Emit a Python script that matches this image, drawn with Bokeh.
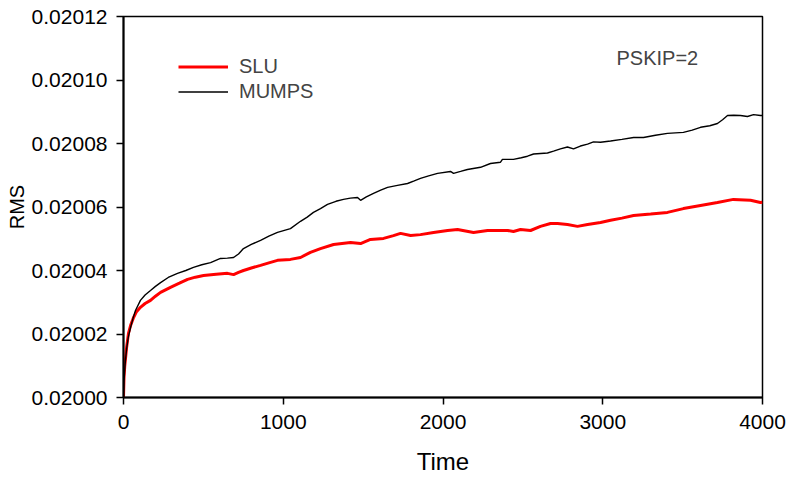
from bokeh.plotting import figure
from bokeh.models import Range1d, FixedTicker, NumeralTickFormatter, Label, Legend, LegendItem
from bokeh.embed import file_html
from bokeh.resources import INLINE

# ---- data (RMS = 0.02 + offset*1e-6) ----
rms_base = 0.02
mumps_time = [0, 3, 8, 12, 20, 30, 44, 60, 75, 106, 135, 169, 200, 232, 280, 338, 390, 438, 490,
              545, 607, 650, 689, 720, 751, 800, 858, 910, 964, 1045, 1108, 1150, 1189, 1233, 1277,
              1330, 1377, 1420, 1465, 1484, 1520, 1565, 1610, 1653, 1715, 1778, 1820, 1859, 1910,
              1966, 2047, 2066, 2110, 2153, 2235, 2297, 2360, 2372, 2441, 2490, 2529, 2567, 2654,
              2692, 2735, 2779, 2817, 2860, 2905, 2942, 2986, 3049, 3120, 3193, 3255, 3330, 3405,
              3505, 3560, 3612, 3670, 3718, 3750, 3781, 3820, 3862, 3906, 3944, 3987, 4000]
mumps_offset = [0, 5, 9, 11.7, 15.5, 19, 22.0, 25, 27.4, 30.6, 32.3, 33.7, 35, 36.2, 37.8, 39.1,
                40.0, 41.0, 41.8, 42.5, 43.8, 43.9, 44.1, 45.2, 46.9, 48.2, 49.5, 50.8, 52.0, 53.2,
                55.5, 56.8, 58.3, 59.5, 60.8, 61.8, 62.4, 62.8, 63.0, 62.1, 63.2, 64.3, 65.3, 66.2,
                66.8, 67.4, 68.2, 69.0, 69.8, 70.6, 71.2, 70.6, 71.2, 71.8, 72.5, 73.7, 74.1, 75.0,
                75.0, 75.5, 76.0, 76.7, 77.0, 77.6, 78.3, 78.9, 78.3, 79.2, 79.8, 80.5, 80.4, 80.8,
                81.3, 81.9, 81.9, 82.6, 83.2, 83.5, 84.2, 85.1, 85.6, 86.3, 87.5, 88.8, 88.9, 88.8,
                88.5, 89.1, 88.8, 88.8]

slu_time = [0, 3, 8, 12, 20, 31, 45, 63, 80, 106, 135, 169, 200, 232, 294, 350, 401, 450, 501,
            580, 651, 689, 720, 751, 800, 858, 910, 964, 1045, 1108, 1170, 1233, 1315, 1421, 1484,
            1546, 1628, 1690, 1734, 1797, 1859, 1941, 2029, 2091, 2191, 2279, 2404, 2441, 2485,
            2548, 2610, 2673, 2717, 2779, 2842, 2905, 2986, 3049, 3120, 3193, 3300, 3405, 3505,
            3612, 3718, 3818, 3925, 3987, 4000]
slu_offset = [0, 6, 10, 12, 16, 20.2, 22.8, 25.2, 26.9, 28.4, 29.6, 30.6, 31.9, 33.1, 34.7, 36.0,
              37.2, 37.9, 38.4, 38.8, 39.1, 38.7, 39.4, 40.0, 40.8, 41.6, 42.4, 43.2, 43.5, 44.1,
              45.7, 46.9, 48.2, 48.8, 48.5, 49.8, 50.1, 51.0, 51.7, 51.0, 51.3, 52.0, 52.6, 52.9,
              52.0, 52.6, 52.6, 52.3, 52.9, 52.6, 53.9, 54.8, 54.8, 54.5, 53.9, 54.5, 55.1, 55.8,
              56.5, 57.3, 57.8, 58.3, 59.5, 60.5, 61.4, 62.4, 62.1, 61.4, 61.5]

y_ticks = [0.02000, 0.02002, 0.02004, 0.02006, 0.02008, 0.02010, 0.02012]
x_ticks = [0, 1000, 2000, 3000, 4000]

mumps_rms = [rms_base + v * 1e-6 for v in mumps_offset]
slu_rms = [rms_base + v * 1e-6 for v in slu_offset]

FONT = "Liberation Sans"

p = figure(width=786, height=478, output_backend="svg", toolbar_location=None,
           x_range=Range1d(0, 4000), y_range=Range1d(0.02, 0.02012),
           min_border_left=123, min_border_right=24, min_border_top=16, min_border_bottom=81)
p.background_fill_color = "white"
p.border_fill_color = "white"
p.grid.visible = False
p.outline_line_color = "black"
p.outline_line_width = 1.5

for ax in (p.xaxis[0], p.yaxis[0]):
    ax.major_label_text_font = FONT
    ax.major_label_text_font_size = "21px"
    ax.major_label_text_color = "black"
    ax.axis_line_color = "black"
    ax.axis_line_width = 2
    ax.major_tick_line_color = "black"
    ax.major_tick_line_width = 1.5
    ax.major_tick_in = 0
    ax.major_tick_out = 7
    ax.minor_tick_line_color = None
    ax.axis_label_text_font = FONT
    ax.axis_label_text_font_style = "normal"
    ax.axis_label_text_color = "black"

p.xaxis.ticker = FixedTicker(ticks=x_ticks)
p.yaxis.ticker = FixedTicker(ticks=y_ticks)
p.yaxis.formatter = NumeralTickFormatter(format="0.00000")
p.xaxis.major_label_standoff = 10
p.yaxis.major_label_standoff = 9
p.xaxis.axis_label = "Time"
p.xaxis.axis_label_text_font_size = "24px"
p.xaxis.axis_label_standoff = 16
p.yaxis.axis_label = "RMS"
p.yaxis.axis_label_text_font_size = "20px"
p.yaxis.axis_label_standoff = 1

r_slu = p.line(slu_time, slu_rms, line_color="#ff0000", line_width=3)
r_mumps = p.line(mumps_time, mumps_rms, line_color="black", line_width=1.4)

legend = Legend(items=[LegendItem(label="SLU", renderers=[r_slu]),
                       LegendItem(label="MUMPS", renderers=[r_mumps])],
                location=(55, 293), orientation="vertical",
                padding=0, margin=0, spacing=0, glyph_width=50, glyph_height=25,
                label_height=25, label_standoff=11,
                label_text_font=FONT, label_text_font_size="20px",
                border_line_color=None, background_fill_alpha=0)
p.add_layout(legend, "center")

p.add_layout(Label(x=3086, y=0.0201068, text="PSKIP=2", text_font=FONT,
                   text_font_size="20px", text_baseline="alphabetic", text_align="left"))

open("out.html", "w").write(file_html(p, INLINE))
